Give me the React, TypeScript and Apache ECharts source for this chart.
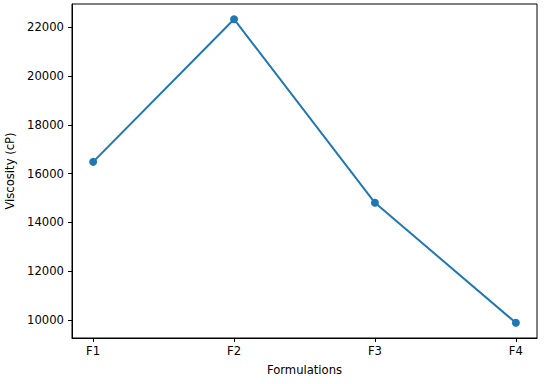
import React, { useEffect, useRef } from "react";
import * as echarts from "echarts";

const categories = ["F1", "F2", "F3", "F4"];
const viscosity = [16480, 22330, 14800, 9880];
const yTicks = [10000, 12000, 14000, 16000, 18000, 20000, 22000];

export default function App() {
  const ref = useRef<HTMLDivElement>(null);
  useEffect(() => {
    if (!ref.current) return;
    const chart = echarts.init(ref.current, null, { renderer: "svg" });
    const font = "DejaVu Sans";
    const lo = Math.min(...viscosity);
    const hi = Math.max(...viscosity);
    const pad = (hi - lo) * 0.05;
    const n = categories.length;
    const xpad = (n - 1) * 0.05;
    chart.setOption({
      animation: false,
      grid: {
        left: 72,
        right: 9,
        top: 4,
        bottom: 46,
        containLabel: false,
        outerBoundsMode: "none",
        show: true,
        borderColor: "#000",
        borderWidth: 1,
        backgroundColor: "transparent",
      },
      xAxis: {
        type: "value",
        min: -xpad,
        max: n - 1 + xpad,
        name: "Formulations",
        nameLocation: "middle",
        nameGap: 26,
        nameTextStyle: { fontFamily: font, fontSize: 11.6, color: "#000" },
        axisLine: { show: true, onZero: false, lineStyle: { color: "#000", width: 1 } },
        axisTick: {
          show: true,
          length: 4,
          customValues: categories.map((_, i) => i),
          lineStyle: { color: "#000" },
        },
        axisLabel: {
          customValues: categories.map((_, i) => i),
          formatter: (v: number) => categories[Math.round(v)] ?? "",
          fontFamily: font,
          fontSize: 11.6,
          color: "#000",
          margin: 7,
        },
        splitLine: { show: false },
      },
      yAxis: {
        type: "value",
        min: lo - pad,
        max: hi + pad,
        name: "Viscosity (cP)",
        nameLocation: "middle",
        nameGap: 52,
        nameTextStyle: { fontFamily: font, fontSize: 11.6, color: "#000" },
        axisLine: { show: true, onZero: false, lineStyle: { color: "#000", width: 1 } },
        axisTick: {
          show: true,
          length: 4,
          customValues: yTicks,
          lineStyle: { color: "#000" },
        },
        axisLabel: {
          customValues: yTicks,
          formatter: (v: number) => String(v),
          fontFamily: font,
          fontSize: 11.6,
          color: "#000",
          margin: 8,
        },
        splitLine: { show: false },
      },
      series: [
        {
          type: "line",
          data: viscosity.map((v, i) => [i, v]),
          symbol: "circle",
          symbolSize: 8,
          lineStyle: { color: "#1f77b4", width: 2 },
          itemStyle: { color: "#1f77b4" },
        },
      ],
    });
    return () => chart.dispose();
  }, []);
  return (
    <div
      ref={ref}
      style={{ width: 546, height: 384, position: "absolute", left: 0, top: 0, background: "#fff" }}
    />
  );
}
